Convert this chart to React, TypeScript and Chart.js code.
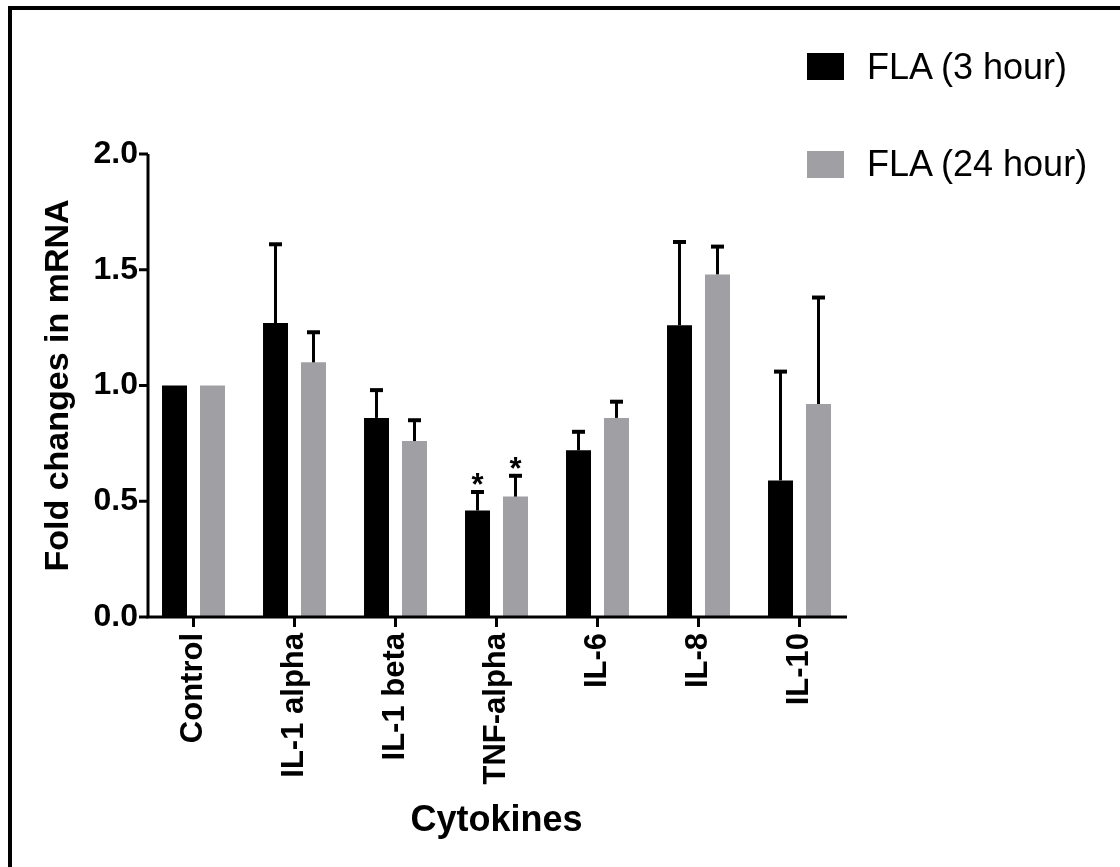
import React, { useEffect, useRef } from 'react';
import { Chart, registerables } from 'chart.js';

Chart.register(...registerables);

// ---- Data ----
const categories = ['Control', 'IL-1 alpha', 'IL-1 beta', 'TNF-alpha', 'IL-6', 'IL-8', 'IL-10'];
const seriesLabels = ['FLA (3 hour)', 'FLA (24 hour)'];
const fla3 = [1.0, 1.27, 0.86, 0.46, 0.72, 1.26, 0.59];
const fla3Err = [0, 0.34, 0.12, 0.08, 0.08, 0.36, 0.47];
const fla24 = [1.0, 1.1, 0.76, 0.52, 0.86, 1.48, 0.92];
const fla24Err = [0, 0.13, 0.09, 0.09, 0.07, 0.12, 0.46];
const sig3 = [false, false, false, true, false, false, false];
const sig24 = [false, false, false, true, false, false, false];
const yTicks = [0, 0.5, 1.0, 1.5, 2.0];
const xTitle = 'Cytokines';
const yTitle = 'Fold changes in mRNA';

const colors = ['#000000', '#A0A0A4'];
const FONT = '"Liberation Sans", Arial, Helvetica, sans-serif';

const decorPlugin = {
  id: 'decor',
  beforeDraw(chart: any) {
    const { ctx, width, height } = chart;
    ctx.save();
    ctx.fillStyle = '#ffffff';
    ctx.fillRect(0, 0, width, height);
    ctx.fillStyle = '#000000';
    ctx.fillRect(8, 6, width - 8, 4);
    ctx.fillRect(8, 6, 4, height - 6);
    ctx.restore();
  },
  afterDatasetsDraw(chart: any) {
    const { ctx, chartArea } = chart;
    const xs = chart.scales.x;
    const ys = chart.scales.y;
    const errs = [fla3Err, fla24Err];
    const sigs = [sig3, sig24];
    ctx.save();
    ctx.strokeStyle = '#000';
    ctx.fillStyle = '#000';
    chart.data.datasets.forEach((ds: any, di: number) => {
      const meta = chart.getDatasetMeta(di);
      meta.data.forEach((bar: any, i: number) => {
        const v = ds.data[i];
        const e = errs[di][i];
        const top = ys.getPixelForValue(v + e);
        if (e > 0) {
          ctx.lineWidth = 3;
          ctx.beginPath();
          ctx.moveTo(bar.x, bar.y);
          ctx.lineTo(bar.x, top);
          ctx.stroke();
          ctx.lineWidth = 4;
          ctx.beginPath();
          ctx.moveTo(bar.x - 6.5, top);
          ctx.lineTo(bar.x + 6.5, top);
          ctx.stroke();
        }
        if (sigs[di][i]) {
          ctx.font = `bold 31px ${FONT}`;
          ctx.textAlign = 'center';
          ctx.textBaseline = 'alphabetic';
          ctx.fillText('*', bar.x, top + 3);
        }
      });
    });
    // axes
    const y0 = ys.getPixelForValue(0);
    const yTop = ys.getPixelForValue(yTicks[yTicks.length - 1]);
    const axL = chartArea.left + 5;
    const axR = chartArea.right - 3;
    ctx.lineWidth = 3;
    ctx.lineCap = 'butt';
    ctx.beginPath();
    ctx.moveTo(axL, yTop);
    ctx.lineTo(axL, y0 + 1.5);
    ctx.moveTo(axL - 1.5, y0);
    ctx.lineTo(axR, y0);
    ctx.stroke();
    yTicks.forEach((t) => {
      const py = ys.getPixelForValue(t);
      ctx.beginPath();
      ctx.moveTo(axL - 9, py);
      ctx.lineTo(axL, py);
      ctx.stroke();
    });
    categories.forEach((_, i) => {
      const px = xs.getPixelForValue(i);
      ctx.beginPath();
      ctx.moveTo(px, y0);
      ctx.lineTo(px, y0 + 10);
      ctx.stroke();
    });
    ctx.restore();
  },
};

export default function App() {
  const canvasRef = useRef<HTMLCanvasElement | null>(null);

  useEffect(() => {
    if (!canvasRef.current) return;
    const chart = new Chart(canvasRef.current, {
      type: 'bar',
      data: {
        labels: categories,
        datasets: [
          { label: seriesLabels[0], data: fla3, backgroundColor: colors[0], borderWidth: 0 },
          { label: seriesLabels[1], data: fla24, backgroundColor: colors[1], borderWidth: 0 },
        ],
      },
      options: {
        responsive: false,
        animation: false,
        layout: { padding: { left: 0, top: 154, right: 270, bottom: 0 } },
        datasets: { bar: { categoryPercentage: 0.752, barPercentage: 0.658 } },
        plugins: { legend: { display: false }, tooltip: { enabled: false } },
        scales: {
          x: {
            type: 'category',
            offset: true,
            grid: { display: false, drawTicks: false, tickLength: 0 },
            border: { display: false },
            ticks: {
              minRotation: 90,
              maxRotation: 90,
              autoSkip: false,
              padding: 16,
              color: '#000',
              font: { family: FONT, size: 31, weight: 'bold' },
            },
            title: {
              display: true,
              text: xTitle,
              color: '#000',
              font: { family: FONT, size: 36, weight: 'bold' },
              padding: { top: 0, bottom: 24 },
            },
            afterFit: (s: any) => {
              s.height = 250;
            },
          },
          y: {
            min: 0,
            max: 2,
            grid: { display: false, drawTicks: false, tickLength: 0 },
            border: { display: false },
            afterBuildTicks: (s: any) => {
              s.ticks = yTicks.map((v) => ({ value: v }));
            },
            ticks: {
              padding: 5,
              color: '#000',
              font: { family: FONT, size: 32, weight: 'bold' },
              callback: (v: any) => Number(v).toFixed(1),
            },
            title: {
              display: true,
              text: yTitle,
              color: '#000',
              font: { family: FONT, size: 34, weight: 'bold' },
              padding: { top: 38, bottom: 0 },
            },
            afterFit: (s: any) => {
              s.width = 143;
            },
          },
        },
      } as any,
      plugins: [decorPlugin],
    });
    return () => chart.destroy();
  }, []);

  const legendTops = [53, 151];
  const textTops = [47, 144];

  return (
    <div style={{ position: 'absolute', left: 0, top: 0, width: 1120, height: 867, background: '#fff', overflow: 'hidden' }}>
      <canvas ref={canvasRef} width={1120} height={867} style={{ display: 'block', position: 'absolute', left: 0, top: 0 }} />
      {seriesLabels.map((lab, i) => (
        <React.Fragment key={lab}>
          <div
            style={{
              position: 'absolute',
              left: 807,
              top: legendTops[i],
              width: 37,
              height: 27,
              background: colors[i],
            }}
          />
          <div
            style={{
              position: 'absolute',
              left: 867,
              top: textTops[i],
              fontFamily: FONT,
              fontSize: 36,
              lineHeight: '40px',
              whiteSpace: 'nowrap',
              color: '#000',
            }}
          >
            {lab}
          </div>
        </React.Fragment>
      ))}
    </div>
  );
}
